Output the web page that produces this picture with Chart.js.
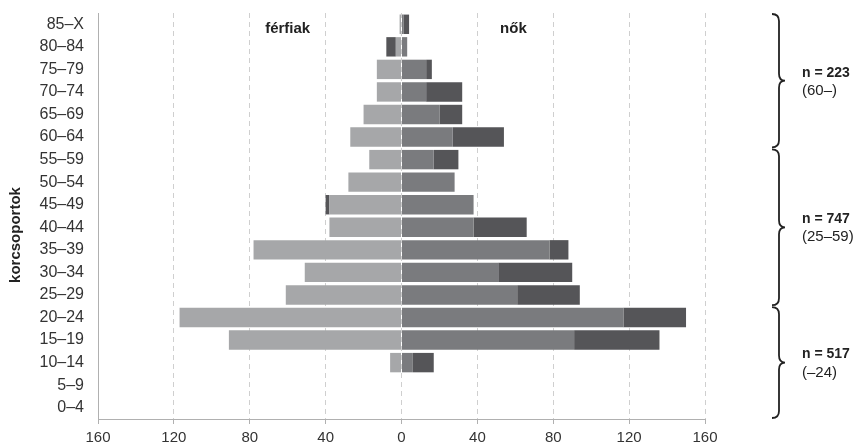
<!DOCTYPE html>
<html lang="hu">
<head>
<meta charset="utf-8">
<script src="https://cdn.jsdelivr.net/npm/chart.js@4"></script>
<style>
  html, body { margin: 0; padding: 0; background: #fff; }
  #wrap { width: 862px; height: 446px; }
</style>
</head>
<body>
<div id="wrap"><canvas id="piramis"></canvas></div>
<script>
// === ADATOK === //
const korcsoportok = ['85–X', '80–84', '75–79', '70–74', '65–69', '60–64', '55–59', '50–54', '45–49',
  '40–44', '35–39', '30–34', '25–29', '20–24', '15–19', '10–14', '5–9', '0–4'];
const ferfiak = [1, 8, 13, 13, 20, 27, 17, 28, 40, 38, 78, 51, 61, 117, 91, 6, 0, 0];
const nok = [4, 3, 16, 32, 32, 54, 30, 28, 38, 66, 88, 90, 94, 150, 136, 17, 0, 0];
const xTicks = [-160, -120, -80, -40, 0, 40, 80, 120, 160];

// csoportok a jobb oldali kapcsos zárójelekhez (első és utolsó sor indexe)
const csoportNevek = ['n = 223', 'n = 747', 'n = 517'];
const csoportKorok = ['(60–)', '(25–59)', '(–24)'];
const csoportSorok = [[0, 5], [6, 12], [13, 17]];

// közös rész és többlet
const kozos = ferfiak.map((m, i) => Math.min(m, nok[i]));
const ferfiTobblet = ferfiak.map((m, i) => Math.max(m - nok[i], 0));
const noTobblet = nok.map((w, i) => Math.max(w - ferfiak[i], 0));

const FONT = "'Liberation Sans', Arial, sans-serif";
const VILAGOS = '#a6a7a9';
const KOZEP = '#7a7b7e';
const SOTET = '#555558';

// feliratok, zárójelek, tengelycím
const rajzolo = {
  id: 'rajzolo',
  afterDraw(chart) {
    const { ctx, scales: { x, y } } = chart;
    const sorMag = y.getPixelForValue(1) - y.getPixelForValue(0);
    ctx.save();
    ctx.fillStyle = '#222';
    ctx.font = 'bold 15px ' + FONT;
    ctx.textAlign = 'center';
    ctx.textBaseline = 'middle';
    const felY = y.getPixelForValue(0) + 5;
    ctx.fillText('férfiak', x.getPixelForValue(-60), felY);
    ctx.fillText('nők', x.getPixelForValue(59), felY);

    // tengelycím
    ctx.save();
    ctx.translate(16, 235);
    ctx.rotate(-Math.PI / 2);
    ctx.font = 'bold 15px ' + FONT;
    ctx.fillText('korcsoportok', 0, 0);
    ctx.restore();

    // kapcsos zárójelek
    ctx.strokeStyle = '#222';
    ctx.lineWidth = 1.8;
    const x0 = 772, xm = 779, tip = 785;
    csoportSorok.forEach(([a, b], i) => {
      const y1 = y.getPixelForValue(a) - sorMag / 2 + 1;
      const y2 = y.getPixelForValue(b) + sorMag / 2 - 1;
      const mid = (y1 + y2) / 2;
      ctx.beginPath();
      ctx.moveTo(x0, y1);
      ctx.quadraticCurveTo(xm, y1, xm, y1 + 7);
      ctx.lineTo(xm, mid - 7);
      ctx.quadraticCurveTo(xm, mid, tip, mid);
      ctx.quadraticCurveTo(xm, mid, xm, mid + 7);
      ctx.lineTo(xm, y2 - 7);
      ctx.quadraticCurveTo(xm, y2, x0, y2);
      ctx.stroke();

      ctx.textAlign = 'left';
      ctx.font = 'bold 14px ' + FONT;
      ctx.fillText(csoportNevek[i], 802, mid - 8);
      ctx.font = '15px ' + FONT;
      ctx.fillText(csoportKorok[i], 802, mid + 10);
    });
    ctx.restore();
  }
};

new Chart(document.getElementById('piramis'), {
  type: 'bar',
  data: {
    labels: korcsoportok,
    datasets: [
      { label: 'férfiak', data: kozos.map(v => -v), backgroundColor: VILAGOS },
      { label: 'férfiak többlet', data: ferfiTobblet.map(v => -v), backgroundColor: SOTET },
      { label: 'nők', data: kozos, backgroundColor: KOZEP },
      { label: 'nők többlet', data: noTobblet, backgroundColor: SOTET }
    ]
  },
  options: {
    indexAxis: 'y',
    responsive: true,
    maintainAspectRatio: false,
    animation: false,
    layout: { padding: { left: 0, right: 157, top: 13, bottom: 0 } },
    datasets: { bar: { barPercentage: 0.86, categoryPercentage: 1, borderWidth: 0 } },
    plugins: { legend: { display: false }, tooltip: { enabled: false } },
    scales: {
      x: {
        stacked: true,
        min: -160,
        max: 160,
        afterBuildTicks: s => { s.ticks = xTicks.map(v => ({ value: v })); },
        afterFit: s => { s.height = 27; },
        ticks: {
          callback: v => Math.abs(v),
          color: '#333',
          font: { family: FONT, size: 15 },
          padding: 5,
          maxRotation: 0
        },
        grid: {
          color: c => (c.tick && c.tick.value === -160 ? 'rgba(0,0,0,0)' : '#cfcfcf'),
          tickColor: '#b0b0b0',
          tickLength: 5,
          lineWidth: 1
        },
        border: { display: true, color: '#b0b0b0', dash: [5, 4] }
      },
      y: {
        stacked: true,
        afterFit: s => { s.width = 98; s.paddingTop = 0; s.paddingBottom = 0; },
        ticks: {
          color: '#333',
          font: { family: FONT, size: 16 },
          padding: 14,
          autoSkip: false
        },
        grid: { display: false, drawTicks: false },
        border: { display: true, color: '#b0b0b0' }
      }
    }
  },
  plugins: [rajzolo]
});
</script>
</body>
</html>
